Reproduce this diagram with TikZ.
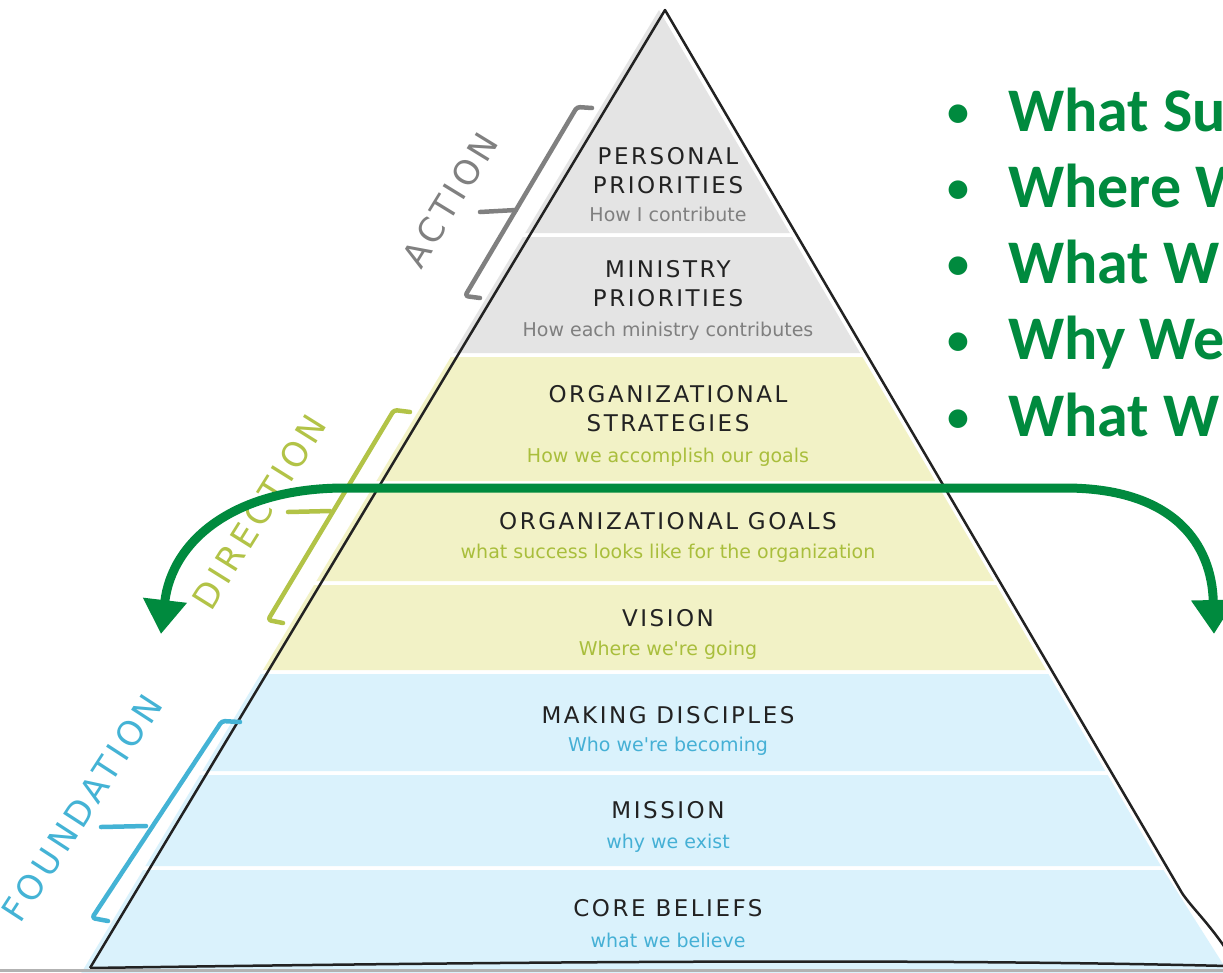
\documentclass[tikz,border=0pt]{standalone}
\usepackage{fontspec}
\setmainfont{DejaVu Sans}
\newfontfamily\ttlfont[LetterSpace=11]{DejaVu Sans}
\newfontfamily\subfont{DejaVu Sans}
\newfontfamily\sidefont[LetterSpace=12]{DejaVu Sans}
\newfontfamily\greenfont{Carlito}
\usetikzlibrary{arrows.meta}
\definecolor{grayfill}{HTML}{E4E4E4}
\definecolor{yelfill}{HTML}{F2F2C6}
\definecolor{bluefill}{HTML}{DAF2FC}
\definecolor{graytxt}{HTML}{7F7F7F}
\definecolor{yeltxt}{HTML}{A9BE3C}
\definecolor{bluetxt}{HTML}{45B0D5}
\definecolor{grayside}{HTML}{808080}
\definecolor{yelside}{HTML}{B2C347}
\definecolor{blueside}{HTML}{44B3D5}
\definecolor{gr}{HTML}{008A3E}
\definecolor{ink}{HTML}{222222}
\tikzset{
  ttl/.style={font=\ttlfont\fontsize{23}{29}\selectfont, text=ink, align=center, inner sep=0pt},
  sub/.style={font=\subfont\fontsize{19}{22}\selectfont, inner sep=0pt},
  side/.style={font=\sidefont\fontsize{34}{36}\selectfont, inner sep=0pt},
  brk/.style={line width=4.5pt, line cap=round, line join=round, rounded corners=3pt},
  outline/.style={draw=ink, line width=2.5pt, line join=round},
  greentxt/.style={font=\greenfont\bfseries\fontsize{62}{66}\selectfont, text=gr, inner sep=0pt},
  bullettxt/.style={font=\greenfont\bfseries\fontsize{44}{48}\selectfont, text=gr, inner sep=0pt},
  garrow/.style={draw=gr, line width=9pt, {Triangle[length=34pt,width=42pt]}-{Triangle[length=34pt,width=42pt]}}
}
\begin{document}
\begin{tikzpicture}[x=1pt,y=-1pt]
\useasboundingbox (0,0) rectangle (1223,972);
\fill[white] (0,0) rectangle (1223,972);
% bands
\fill[grayfill] (659,10) -- (789.8,233) -- (525.2,233) -- cycle;
\fill[grayfill] (522.8,237) -- (792.1,237) -- (860.2,353) -- (453.2,353) -- cycle;
\fill[yelfill] (450.8,357) -- (862.5,357) -- (935.2,481) -- (376.4,481) -- cycle;
\fill[yelfill] (374,485) -- (937.6,485) -- (993.9,581) -- (316.4,581) -- cycle;
\fill[yelfill] (314,585) -- (996.2,585) -- (1046.1,670) -- (263,670) -- cycle;
\fill[bluefill] (260.6,674) -- (1048.4,674) -- (1105.3,771) -- (202.4,771) -- cycle;
\fill[bluefill] (200,775) -- (1107.7,775) -- (1161,866) -- (145.4,866) -- cycle;
\fill[bluefill] (143,870) -- (1163.4,870) -- (1230,975) -- (80,975) -- cycle;
% outline
\draw[outline] (90,968) -- (665,10) -- (1182,893) .. controls (1192,908) and (1208,922) .. (1228,952);
\draw[outline] (90,968) .. controls (500,962) and (900,958) .. (1228,966);
\fill[gray!60] (0,969) rectangle (1223,972);
% texts
\node[ttl] (t1) at (668,171) {PERSONAL\\PRIORITIES};
\node[sub, text=graytxt] (s1) at (668,214) {How I contribute};
\node[ttl] (t2) at (668,284) {MINISTRY\\PRIORITIES};
\node[sub, text=graytxt] (s2) at (668,331) {How each ministry contributes};
\node[ttl] (t3) at (668,409) {ORGANIZATIONAL\\STRATEGIES};
\node[sub, text=yeltxt] (s3) at (668,457) {How we accomplish our goals};
\node[ttl] (t4) at (668,521) {ORGANIZATIONAL GOALS};
\node[sub, text=yeltxt] (s4) at (668,553) {what success looks like for the organization};
\node[ttl] (t5) at (668,618) {VISION};
\node[sub, text=yeltxt] (s5) at (668,650) {Where we're going};
\node[ttl] (t6) at (668,715) {MAKING DISCIPLES};
\node[sub, text=bluetxt] (s6) at (668,746) {Who we're becoming};
\node[ttl] (t7) at (668,810) {MISSION};
\node[sub, text=bluetxt] (s7) at (668,843) {why we exist};
\node[ttl] (t8) at (668,908) {CORE BELIEFS};
\node[sub, text=bluetxt] (s8) at (668,940) {what we believe};
% brackets
\draw[brk, draw=grayside] (592,108) -- (577,107) -- (465,296) -- (480,298);
\draw[brk, draw=grayside] (480,212) -- (516,210);
\node[side, text=grayside, rotate=58.5] (action) at (450,200) {ACTION};
\draw[brk, draw=yelside] (410,412) -- (394,410) -- (268,620) -- (283,623);
\draw[brk, draw=yelside] (288,512) -- (330,511);
\node[side, text=yelside, rotate=58] (direction) at (259,512) {DIRECTION};
\draw[brk, draw=blueside] (240,722) -- (222,721) -- (92,918) -- (108,921);
\draw[brk, draw=blueside] (101,827) -- (146,826);
\node[side, text=blueside, rotate=57] (foundation) at (82,808) {FOUNDATION};
% green arrow
\coordinate (aL) at (161,634);
\coordinate (aR) at (1214,634);
\coordinate (hL) at (345,488);
\coordinate (hR) at (1065,488);
\draw[garrow] (aL) .. controls (172,540) and (235,488) .. (hL) -- (hR) .. controls (1175,488) and (1212,545) .. (aR);
% green list
\foreach \yy/\tx/\nm in {131/What Su/g1, 207/Where W/g2, 283/What W/g3, 359/Why We/g4, 436/What W/g5}{
  \node[bullettxt, anchor=base] (b\nm) at (958,\yy-5) {•};
  \node[greentxt, anchor=base west] (\nm) at (1008,\yy) {\tx};
}
\end{tikzpicture}
\end{document}
